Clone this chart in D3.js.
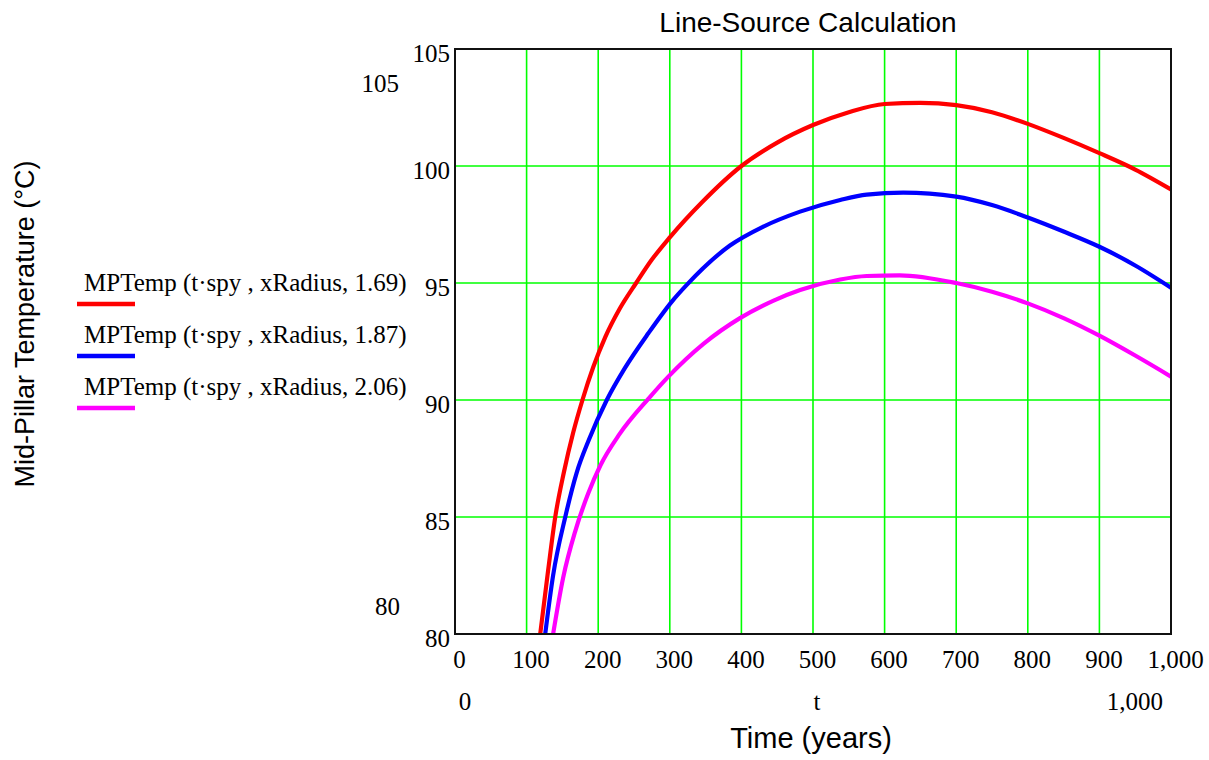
<!DOCTYPE html>
<html>
<head>
<meta charset="utf-8">
<script src="https://cdn.jsdelivr.net/npm/d3@7"></script>
<style>
  html, body { margin: 0; padding: 0; background: #fff; }
  svg { display: block; }
</style>
</head>
<body>
<svg id="chart" width="1209" height="760"></svg>
<script>
// ---- data ----
const chartTitle = "Line-Source Calculation";
const xTitle = "Time (years)";
const yTitle = "Mid-Pillar Temperature (°C)";
const seriesLabels = [
  "MPTemp (t·spy , xRadius, 1.69)",
  "MPTemp (t·spy , xRadius, 1.87)",
  "MPTemp (t·spy , xRadius, 2.06)"
];
const xTicks = [0, 100, 200, 300, 400, 500, 600, 700, 800, 900, 1000];
const yTicks = [80, 85, 90, 95, 100, 105];
const xDomain = [0, 1000];
const yDomain = [80, 105];

const years169 = [119, 130, 140, 152, 165, 178, 193, 210, 230, 253, 275, 300, 345, 400, 450, 500, 550, 600, 650, 700, 750, 800, 850, 900, 950, 1000];
const temps169 = [80.0, 82.7, 85.0, 86.9, 88.6, 90.0, 91.4, 92.7, 93.9, 95.0, 96.0, 96.95, 98.45, 100.0, 101.0, 101.75, 102.3, 102.65, 102.7, 102.6, 102.3, 101.8, 101.2, 100.55, 99.85, 99.0];

const years187 = [126, 137, 154, 170, 187, 212, 237, 270, 304, 323, 384, 430, 482, 538, 575, 626, 700, 750, 800, 850, 900, 950, 1000];
const temps187 = [80.0, 82.5, 85.0, 86.9, 88.3, 90.0, 91.35, 92.85, 94.25, 94.9, 96.6, 97.4, 98.05, 98.55, 98.78, 98.86, 98.69, 98.33, 97.8, 97.2, 96.55, 95.75, 94.8];

const years206 = [137, 151, 168, 186, 203, 230, 270, 298, 347, 398, 445, 482, 538, 575, 621, 700, 750, 800, 850, 900, 950, 1000];
const temps206 = [80.0, 82.4, 84.4, 86.0, 87.2, 88.55, 90.05, 91.0, 92.4, 93.5, 94.25, 94.7, 95.15, 95.3, 95.33, 95.0, 94.63, 94.13, 93.5, 92.75, 91.9, 91.0];

// extra Mathcad-style range labels
const yRangeLabels = [105, 80];
const xRangeLabels = ["0", "t", "1,000"];

// ---- styles ----
const seriesColors = ["#ff0000", "#0000ff", "#ff00ff"];
const serif = "'Liberation Serif', 'Times New Roman', serif";
const sans = "'Liberation Sans', Arial, sans-serif";

// ---- layout ----
const plot = { left: 455, right: 1171, top: 49, bottom: 634 };

const svg = d3.select("#chart");
const x = d3.scaleLinear().domain(xDomain).range([plot.left, plot.right]);
const y = d3.scaleLinear().domain(yDomain).range([plot.bottom, plot.top]);

svg.append("defs").append("clipPath").attr("id", "clip")
  .append("rect")
  .attr("x", plot.left).attr("y", plot.top)
  .attr("width", plot.right - plot.left).attr("height", plot.bottom - plot.top);

// grid
const grid = svg.append("g");
grid.selectAll("line.vx").data(xTicks.slice(1, -1)).join("line")
  .attr("x1", d => x(d)).attr("x2", d => x(d))
  .attr("y1", plot.top).attr("y2", plot.bottom)
  .attr("stroke", "#00ff00").attr("stroke-width", 1.6);
grid.selectAll("line.hy").data(yTicks.slice(1, -1)).join("line")
  .attr("x1", plot.left).attr("x2", plot.right)
  .attr("y1", d => y(d)).attr("y2", d => y(d))
  .attr("stroke", "#00ff00").attr("stroke-width", 1.6);

// series
const series = [
  { t: years169, v: temps169 },
  { t: years187, v: temps187 },
  { t: years206, v: temps206 }
];
const line = d3.line().x(d => x(d[0])).y(d => y(d[1])).curve(d3.curveMonotoneX);
const lines = svg.append("g").attr("clip-path", "url(#clip)");
series.forEach((s, i) => {
  const pts = s.t.map((t, k) => [t, s.v[k]]);
  lines.append("path").datum(pts)
    .attr("d", line)
    .attr("fill", "none")
    .attr("stroke", seriesColors[i])
    .attr("stroke-width", 4.2)
    .attr("stroke-linejoin", "round");
});

// frame
svg.append("rect")
  .attr("x", plot.left).attr("y", plot.top)
  .attr("width", plot.right - plot.left).attr("height", plot.bottom - plot.top)
  .attr("fill", "none").attr("stroke", "#111").attr("stroke-width", 2);

// axes
const xAxis = svg.append("g").attr("transform", `translate(0,${plot.bottom})`)
  .call(d3.axisBottom(x).tickValues(xTicks).tickFormat(d3.format(",")).tickSize(0).tickPadding(16));
xAxis.select(".domain").remove();
xAxis.selectAll("text").attr("font-family", serif).attr("font-size", 25).attr("fill", "#000").attr("dx", 4);

const yAxis = svg.append("g").attr("transform", `translate(${plot.left},0)`)
  .call(d3.axisLeft(y).tickValues(yTicks).tickSize(0).tickPadding(5));
yAxis.select(".domain").remove();
yAxis.selectAll("text").attr("font-family", serif).attr("font-size", 25).attr("fill", "#000").attr("dy", "0.5em");

// range labels (Mathcad style)
svg.append("text").attr("x", 399).attr("y", 92).attr("text-anchor", "end")
  .attr("font-family", serif).attr("font-size", 25).text(yRangeLabels[0]);
svg.append("text").attr("x", 400).attr("y", 615).attr("text-anchor", "end")
  .attr("font-family", serif).attr("font-size", 25).text(yRangeLabels[1]);
svg.append("text").attr("x", 465).attr("y", 710).attr("text-anchor", "middle")
  .attr("font-family", serif).attr("font-size", 25).text(xRangeLabels[0]);
svg.append("text").attr("x", 817).attr("y", 710).attr("text-anchor", "middle")
  .attr("font-family", serif).attr("font-size", 25).text(xRangeLabels[1]);
svg.append("text").attr("x", 1163).attr("y", 710).attr("text-anchor", "end")
  .attr("font-family", serif).attr("font-size", 25).text(xRangeLabels[2]);

// titles
svg.append("text").attr("x", 808).attr("y", 32).attr("text-anchor", "middle")
  .attr("font-family", sans).attr("font-size", 28).text(chartTitle);
svg.append("text").attr("x", 811).attr("y", 748).attr("text-anchor", "middle")
  .attr("font-family", sans).attr("font-size", 29).text(xTitle);
svg.append("text").attr("transform", "translate(34,324) rotate(-90)").attr("text-anchor", "middle")
  .attr("font-family", sans).attr("font-size", 27).text(yTitle);

// legend
const legend = svg.append("g");
seriesLabels.forEach((lab, i) => {
  const base = 291 + i * 52;
  legend.append("text").attr("x", 84).attr("y", base)
    .attr("font-family", serif).attr("font-size", 25).attr("fill", "#000").text(lab);
  legend.append("line").attr("x1", 77).attr("x2", 135)
    .attr("y1", base + 13).attr("y2", base + 13)
    .attr("stroke", seriesColors[i]).attr("stroke-width", 4.5);
});
</script>
</body>
</html>
